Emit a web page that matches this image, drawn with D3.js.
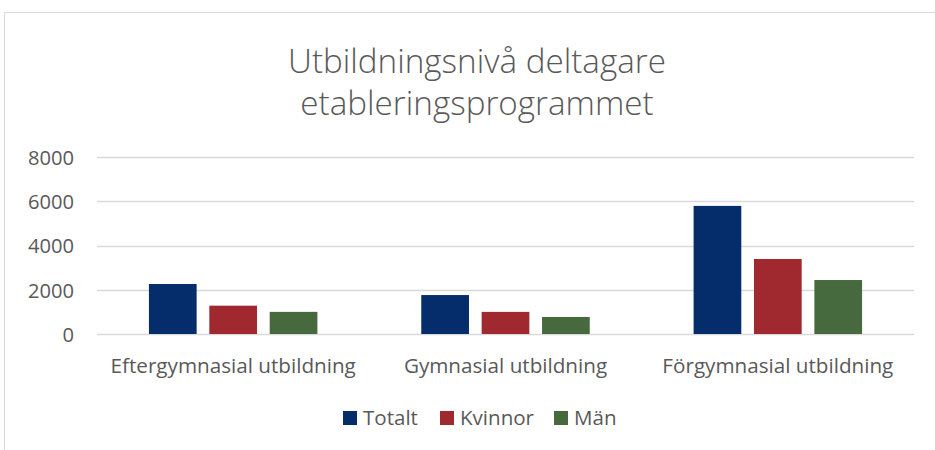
<!DOCTYPE html>
<html>
<head>
<meta charset="utf-8">
<script src="https://cdn.jsdelivr.net/npm/d3@7"></script>
<style>
  body { margin: 0; background: #fff; }
  svg { display: block; }
  svg text { font-family: "Open Sans", "Noto Sans", sans-serif; }
</style>
</head>
<body>
<svg id="chart" width="935" height="450"></svg>
<script>
// Utbildningsnivå deltagare etableringsprogrammet
const categories = ["Eftergymnasial utbildning", "Gymnasial utbildning", "Förgymnasial utbildning"];
const seriesNames = ["Totalt", "Kvinnor", "Män"];
const totalt = [2260, 1760, 5790];
const kvinnor = [1280, 1000, 3390];
const man = [1000, 770, 2440];
const yTicks = [0, 2000, 4000, 6000, 8000];
const colors = ["#052d6b", "#9f292f", "#466a3e"];

const seriesValues = [totalt, kvinnor, man];
const svg = d3.select("#chart");
const textColor = "#595959";

// pick a font size so that a sample string gets the width seen in the original
function fitSize(sample, targetWidth, weight) {
  const t = svg.append("text").style("font-size", "100px").style("font-weight", weight || 400).text(sample);
  const w = t.node().getComputedTextLength();
  t.remove();
  return (100 * targetWidth / w).toFixed(2) + "px";
}
const tickSize = fitSize("8000", 46);
const catSize = fitSize("Förgymnasial utbildning", 231);
const legendSize = fitSize("Kvinnor", 74);
const titleSize = fitSize("Utbildningsnivå deltagare", 378, 300);

// chart frame (cropped on right/bottom)
svg.append("path")
  .attr("d", "M4.5,450 V12.5 H935")
  .attr("fill", "none")
  .attr("stroke", "#d9d9d9")
  .attr("stroke-width", 1);

const margin = { left: 97, right: 21, top: 157 };
const width = 935 - margin.left - margin.right;
const plotBottom = 334;

const x0 = d3.scaleBand().domain(categories).range([margin.left, margin.left + width]).paddingInner(0).paddingOuter(0);
const x1 = d3.scaleBand().domain(seriesNames).range([0, x0.bandwidth()]).paddingInner(0.21).paddingOuter(0.86);
const y = d3.scaleLinear().domain([0, 8000]).range([plotBottom, margin.top]);

// gridlines
svg.append("g").selectAll("line").data(yTicks).join("line")
  .attr("x1", margin.left).attr("x2", margin.left + width)
  .attr("y1", d => Math.round(y(d)) + 0.5).attr("y2", d => Math.round(y(d)) + 0.5)
  .attr("stroke", "#d9d9d9").attr("stroke-width", 1.3);

// y axis labels
const yAxis = d3.axisLeft(y).tickValues(yTicks).tickSize(0).tickPadding(0).tickFormat(d3.format("d"));
const gy = svg.append("g").attr("transform", "translate(74,0)").call(yAxis);
gy.attr("font-family", null).attr("font-size", null);
gy.select(".domain").remove();
gy.selectAll("text").attr("fill", textColor).style("font-size", tickSize).attr("dy", "0.36em");

// bars
const groups = svg.append("g").selectAll("g").data(categories).join("g")
  .attr("transform", d => `translate(${x0(d)},0)`);
groups.selectAll("rect")
  .data((c, i) => seriesNames.map((s, j) => ({ s, v: seriesValues[j][i], j })))
  .join("rect")
  .attr("x", d => x1(d.s))
  .attr("width", x1.bandwidth())
  .attr("y", d => y(d.v))
  .attr("height", d => y(0) - y(d.v))
  .attr("fill", d => colors[d.j]);

// category labels
const xAxis = d3.axisBottom(x0).tickSize(0).tickPadding(0);
const gx = svg.append("g").attr("transform", `translate(0,${plotBottom})`).call(xAxis);
gx.attr("font-family", null).attr("font-size", null);
gx.select(".domain").remove();
gx.selectAll("text").attr("fill", textColor).style("font-size", catSize).attr("dy", "0").attr("y", 39);

// title, two lines
const titleLines = ["Utbildningsnivå deltagare", "etableringsprogrammet"];
const titleY = [73, 115];
svg.append("g").selectAll("text").data(titleLines).join("text")
  .attr("x", 477).attr("y", (d, i) => titleY[i])
  .attr("text-anchor", "middle").attr("fill", textColor)
  .style("font-size", titleSize).style("font-weight", 300)
  .text(d => d);

// legend
const legendX = [343, 440, 554];
const legend = svg.append("g").selectAll("g").data(seriesNames).join("g")
  .attr("transform", (d, i) => `translate(${legendX[i]},411)`);
legend.append("rect").attr("width", 14).attr("height", 14).attr("fill", (d, i) => colors[i]);
legend.append("text").attr("x", 20).attr("y", 14).attr("fill", textColor)
  .style("font-size", legendSize).text(d => d);
</script>
</body>
</html>
